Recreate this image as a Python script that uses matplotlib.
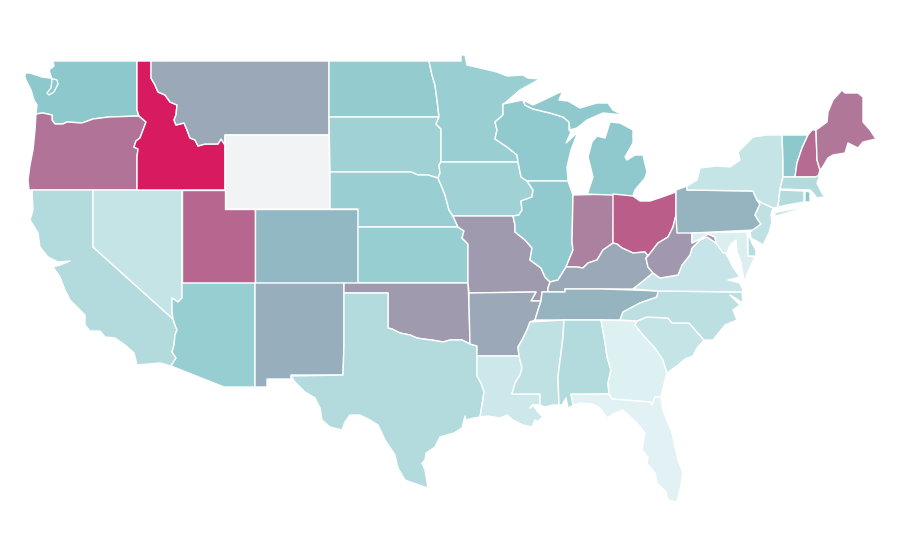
#!/usr/bin/env python3
"""Choropleth of the lower 48 states, outlines traced from the picture."""
import matplotlib
matplotlib.use("Agg")
import matplotlib.pyplot as plt
from matplotlib.colors import LinearSegmentedColormap, Normalize

# values on a 0-100 scale (None = no data)
states = ["WA", "OR", "CA", "NV", "ID", "MT", "WY", "UT", "AZ", "CO", "NM", "ND", "SD",
          "NE", "KS", "OK", "TX", "MN", "IA", "MO", "AR", "LA", "WI", "IL", "IN", "MI",
          "UP", "OH", "KY", "TN", "MS", "AL", "GA", "FL", "SC", "NC", "VA", "WV", "PA",
          "NY", "LI", "VT", "NH", "ME", "MA", "CT", "RI", "NJ", "MD", "DE"]
values = [40, 69, 23, 15, 100, 51, None, 74, 35, 45, 49, 37, 32,
          34, 35, 56, 23, 34, 31, 56, 51, 11, 38, 38, 65, 39,
          39, 77, 51, 47, 17, 23, 4, 2, 15, 19, 14, 57, 47,
          15, 15, 40, 72, 68, 23, 23, 40, 17, 5, 21]

# shared borders, image pixels
wa_or = [(139, 116), (109, 117), (93, 119), (82, 123), (67, 122), (63, 124), (55, 124),
         (52, 120), (52, 115), (43, 113), (36, 114)]
or_id = [(139, 116), (146, 122), (143, 130), (140, 138), (136, 141), (134, 147), (138, 149),
         (137, 157), (137, 190)]
id_mt = [(151, 61), (151, 78), (155, 85), (158, 92), (165, 95), (170, 102), (177, 105),
         (176, 115), (174, 120), (176, 125), (184, 123), (187, 130), (190, 138), (195, 140),
         (198, 146), (205, 144), (218, 144), (221, 139), (225, 145)]
ca_az = [(173, 319), (175, 325), (177, 330), (175, 335), (174, 345), (172, 352), (176, 358),
         (171, 366)]
nv_az = [(182, 283), (182, 298), (178, 302), (172, 298), (172, 312), (173, 319)]
nd_mn = [(429, 61), (432, 75), (435, 85), (437, 100), (439, 117)]
sd_mn = [(439, 117), (436, 124), (441, 129), (441, 162)]
sd_ne = [(330, 172), (411, 172), (418, 175), (428, 175), (438, 178)]
sd_ia = [(441, 162), (439, 165), (440, 173), (438, 178)]
ne_ia = [(438, 178), (441, 185), (445, 195), (449, 210), (453, 216)]
ne_mo = [(453, 216), (458, 227)]
ks_mo = [(458, 227), (464, 231), (462, 238), (468, 244), (468, 283)]
red_river = [(388, 328), (392, 329), (400, 333), (410, 335), (417, 338), (423, 339), (432, 340),
             (443, 342), (450, 340), (462, 340), (470, 344)]
mn_wi = [(503, 104), (503, 115), (495, 122), (497, 130), (495, 139), (507, 147), (517, 155),
         (518, 162)]
ia_il = [(518, 162), (520, 172), (521, 177), (527, 181), (533, 190), (532, 197), (521, 201),
         (522, 210), (519, 215), (513, 216)]
mo_il = [(513, 216), (515, 225), (515, 232), (525, 240), (532, 248), (530, 260), (541, 268),
         (545, 277), (550, 282)]
ky_mo = [(550, 282), (548, 288), (548, 292)]
ar_river = [(541, 301), (538, 310), (535, 320), (530, 322), (527, 330), (522, 340), (518, 347),
            (519, 356)]
ms_la = [(519, 356), (522, 368), (520, 375), (515, 383), (512, 394), (540, 394), (540, 405)]
tx_la = [(477, 376), (481, 383), (484, 392), (482, 405), (480, 417)]
il_in = [(573, 195), (572, 242), (573, 250), (566, 267)]
ohio_in = [(566, 267), (577, 267), (583, 268), (588, 263), (597, 260), (603, 250), (613, 243)]
ohio_oh = [(613, 243), (617, 244), (622, 248), (633, 253), (645, 252), (648, 256)]
oh_wv = [(676, 215), (673, 227), (668, 237), (658, 243), (648, 256)]
ky_wv = [(648, 256), (646, 258), (648, 267), (653, 273)]
ky_va = [(653, 273), (642, 282), (633, 289)]
wv_va = [(653, 273), (660, 278), (678, 275), (682, 265), (690, 255), (692, 248), (700, 240),
         (707, 237), (716, 243)]
wv_md = [(716, 243), (715, 237), (708, 234), (700, 239), (692, 243), (692, 233)]
tn_nc = [(658, 291), (657, 297), (640, 303), (623, 312), (620, 320)]
ms_al = [(564, 320), (563, 337), (558, 377), (559, 405)]
al_ga = [(601, 320), (605, 342), (607, 357), (611, 370), (608, 383), (609, 394)]
ga_sc = [(637, 321), (635, 325), (643, 335), (655, 348), (663, 360), (667, 373)]
ga_fl = [(609, 394), (612, 399), (650, 402), (652, 405), (655, 397), (661, 397)]
sc_nc = [(637, 321), (647, 317), (668, 318), (672, 323), (689, 323), (704, 340)]
pa_nj = [(757, 200), (760, 204), (755, 215), (758, 220), (761, 224)]
vt_nh = [(808, 135), (802, 148), (797, 163), (795, 177)]
ny_vt = [(782, 135), (783, 160), (783, 177)]
ny_ct = [(780, 189), (778, 207)]
nh_me = [(816, 130), (817, 160), (820, 170)]

shapes = {
    "WA": [(53, 61), (137, 61), (137, 110)] + wa_or + [(37, 105), (34, 100), (31, 90), (25, 78), (25, 73),
          (30, 73), (42, 77), (50, 78), (57, 80), (58, 84), (54, 92), (49, 95), (47, 93), (51, 88), (52, 80),
          (51, 76), (49, 70), (54, 66)],
    "OR": wa_or + [(35, 130), (33, 150), (30, 165), (28, 180), (29, 190)] + or_id[::-1],
    "CA": [(32, 190), (93, 190), (93, 247)] + ca_az + [(160, 363), (137, 365), (134, 353), (125, 345), (115, 338),
          (105, 337), (100, 331), (90, 331), (85, 325), (85, 315), (70, 300), (65, 290), (60, 277), (53, 267),
          (60, 265), (70, 261), (58, 262), (48, 257), (40, 247), (38, 233), (30, 220), (33, 210)],
    "NV": [(93, 190), (182, 190)] + nv_az + [(93, 247)],
    "ID": id_mt + [(225, 190), (137, 190)] + or_id[::-1][1:] + [(137, 110), (137, 61)],
    "MT": id_mt + [(225, 135), (329, 135), (329, 61)],
    "WY": [(225, 135), (329, 135), (330, 209), (225, 209)],
    "UT": [(182, 190), (225, 190), (225, 209), (255, 209), (255, 283), (182, 283)],
    "AZ": [(182, 283), (255, 283), (255, 387), (224, 387)] + ca_az[::-1] + nv_az[::-1][1:],
    "CO": [(255, 209), (358, 209), (358, 283), (255, 283)],
    "NM": [(255, 283), (344, 283), (344, 344), (343, 375), (291, 375), (291, 379), (267, 379), (267, 387), (255, 387)],
    "ND": [(329, 61)] + nd_mn + [(329, 117)],
    "SD": [(329, 117)] + sd_mn + sd_ia[1:] + sd_ne[::-1],
    "NE": sd_ne + ne_ia[1:] + ne_mo[1:] + [(358, 227), (358, 209), (330, 209)],
    "KS": [(358, 227)] + ks_mo + [(358, 283)],
    "OK": [(344, 283), (468, 283), (469, 303), (470, 344)] + red_river[::-1] + [(388, 293), (344, 293)],
    "TX": [(344, 293), (388, 293)] + red_river + [(477, 346)] + tx_la + [(474, 418), (466, 420), (465, 416), (462, 428),
          (454, 433), (440, 437), (435, 447), (426, 453), (425, 460), (422, 463), (425, 470), (428, 488), (416, 484),
          (405, 480), (398, 468), (395, 455), (385, 440), (378, 425), (370, 420), (360, 415), (350, 415), (345, 422),
          (342, 430), (330, 427), (322, 420), (320, 408), (315, 398), (305, 392), (295, 382), (291, 376), (343, 375), (344, 344)],
    "MN": [(429, 61), (461, 61), (461, 55), (465, 55), (467, 65), (480, 68), (497, 72), (507, 76), (523, 75),
          (528, 78), (540, 79), (520, 90), (505, 103)] + mn_wi + [(441, 162)] + sd_mn[::-1][1:] + nd_mn[::-1][1:],
    "IA": [(441, 162)] + mn_wi[-1:] + ia_il[1:] + ne_ia[::-1] + sd_ia[1:-1][::-1],
    "MO": [(453, 216)] + ia_il[-1:] + mo_il[1:] + ky_mo[1:] + [(542, 292), (541, 301), (531, 301), (536, 292), (469, 293),
          (468, 283)] + ks_mo[::-1][1:],
    "AR": [(469, 293), (536, 292), (531, 301)] + ar_river + [(477, 356), (477, 346), (470, 344), (469, 303)],
    "LA": [(477, 356)] + ar_river[-1:] + ms_la[1:] + [(533, 405), (530, 408), (533, 405), (538, 412), (543, 417), (537, 422),
          (543, 423), (548, 429), (540, 423), (535, 420), (532, 427), (523, 425), (513, 420), (507, 415), (500, 418),
          (488, 416)] + tx_la[::-1] + [(477, 356)],
    "WI": [(503, 104), (523, 100), (525, 105), (533, 109), (550, 113), (563, 117), (569, 122), (569, 130), (571, 132),
          (566, 143), (578, 132), (571, 150), (567, 167), (568, 181), (527, 181), (521, 177), (520, 172), (518, 162)] + mn_wi[::-1][1:],
    "IL": [(527, 181), (568, 181), (573, 195)] + il_in[1:] + [(558, 280)] + mo_il[::-1] + ia_il[::-1][1:6],
    "IN": il_in + ohio_in[1:] + [(614, 194)],
    "MI": [(587, 194), (633, 196), (635, 190), (645, 178), (647, 172), (643, 155), (635, 155), (627, 160), (625, 157), (633, 143),
          (633, 130), (620, 123), (610, 122), (605, 138), (597, 136), (592, 142), (588, 157), (593, 177), (588, 192)],
    "UP": [(523, 100), (533, 105), (550, 97), (558, 93), (568, 90), (562, 93), (559, 100), (568, 101), (580, 108), (597, 103),
          (608, 103), (613, 110), (623, 115), (603, 113), (587, 120), (577, 128), (570, 130), (569, 122), (563, 117), (550, 113),
          (533, 109), (525, 105)],
    "OH": [(613, 194), (633, 196), (640, 201), (650, 201), (662, 197), (676, 192), (676, 215)] + oh_wv[1:] + ohio_oh[::-1][1:] + [(613, 243)],
    "KY": ohio_in + ohio_oh[1:] + ky_wv[1:] + ky_va[1:] + [(602, 289), (565, 289), (565, 292), (548, 292), (548, 288), (550, 282),
          (558, 280)],
    "TN": [(548, 292), (565, 292), (565, 289), (602, 289), (633, 290)] + tn_nc + [(535, 320)] + ar_river[:3][::-1][1:] + [(542, 292)],
    "MS": [(530, 322), (564, 320)] + ms_al[1:] + [(553, 405), (545, 407), (540, 405)] + ms_la[::-1][1:] + ar_river[::-1][1:-3],
    "AL": [(564, 320)] + al_ga + [(571, 395), (574, 405), (568, 408), (566, 398), (562, 405)] + ms_al[::-1],
    "GA": [(601, 320), (637, 321)] + ga_sc[1:] + [(663, 388)] + ga_fl[::-1] + al_ga[::-1][1:],
    "FL": [(571, 394)] + ga_fl + [(663, 410), (672, 433), (678, 460), (683, 473), (680, 490), (677, 502), (668, 500), (666, 492),
          (657, 483), (655, 473), (647, 463), (648, 457), (642, 450), (645, 433), (637, 423), (623, 410), (615, 413), (607, 418),
          (600, 408), (593, 404), (580, 403), (573, 405)],
    "SC": sc_nc + [(697, 348), (693, 356), (685, 359), (678, 365)] + ga_sc[::-1],
    "NC": [(658, 291), (742, 292), (743, 303), (730, 295), (740, 305), (733, 310), (737, 320), (725, 325), (713, 340)] + sc_nc[::-1] + tn_nc[::-1][:-1],
    "VA": ky_va[::-1] + wv_va[1:] + [(723, 250), (728, 257), (733, 267), (740, 277), (728, 280), (740, 283),
          (743, 290), (742, 292), (658, 291)],
    "WV": oh_wv + ky_wv[1:] + wv_va[1:] + wv_md[1:],
    "PA": [(676, 190), (687, 186), (687, 190), (753, 191)] + pa_nj + [(755, 230), (692, 233), (677, 233), (676, 215)],
    "NY": [(767, 135)] + ny_vt + ny_ct + [(773, 208), (762, 203)] + pa_nj[:1] + [(753, 191), (687, 190), (687, 186),
          (697, 180), (700, 168), (717, 166), (730, 167), (740, 160), (738, 152), (747, 143), (753, 137)],
    "LI": [(773, 213), (797, 208), (802, 208), (783, 214), (777, 216)],
    "VT": ny_vt + vt_nh[::-1],
    "NH": [(812, 130)] + nh_me + [(818, 177)] + vt_nh[::-1],
    "ME": nh_me + [(822, 168), (828, 158), (833, 155), (845, 153), (848, 143), (858, 148), (863, 142), (876, 139), (870, 130),
          (863, 122), (863, 97), (858, 93), (845, 93), (842, 90), (833, 100), (828, 112), (827, 122)],
    "MA": [(783, 177), (815, 177), (820, 175), (817, 183), (823, 195), (830, 196), (817, 198), (813, 193), (810, 190), (780, 189)],
    "CT": [(780, 190), (804, 191), (804, 202), (787, 205), (778, 207)],
    "RI": [(805, 191), (810, 192), (810, 202), (805, 202)],
    "NJ": [(762, 203), (773, 208), (771, 215), (772, 222), (769, 233), (763, 245), (760, 243), (751, 238), (750, 232)] + pa_nj[::-1],
    "MD": [(692, 233), (747, 232), (748, 256), (755, 257), (748, 272), (744, 282), (741, 262), (737, 252), (736, 240), (730, 245),
          (727, 253), (723, 253), (716, 243)] + wv_md[1:-1],
    "DE": [(748, 233), (752, 243), (756, 250), (756, 256), (748, 256)],
}

# teal to crimson through a muted mauve, Wyoming has no value
cmap = LinearSegmentedColormap.from_list("teal_crimson", [(0, "#E6F4F6"), (0.4, "#8CC8CC"), (1, "#D81B60")])
norm = Normalize(0, 100)
no_data = "#F2F3F5"

fig = plt.figure(figsize=(9, 5.6), dpi=100)
ax = fig.add_axes([0, 0, 1, 1])
ax.set_xlim(0, 900)
ax.set_ylim(560, 0)
ax.axis("off")

for name, value in zip(states, values):
    color = no_data if value is None else cmap(norm(value))
    xs, ys = zip(*shapes[name])
    ax.fill(xs, ys, facecolor=color, edgecolor="white", linewidth=1.0, joinstyle="round")

fig.savefig("out.png", dpi=100, facecolor="white")
